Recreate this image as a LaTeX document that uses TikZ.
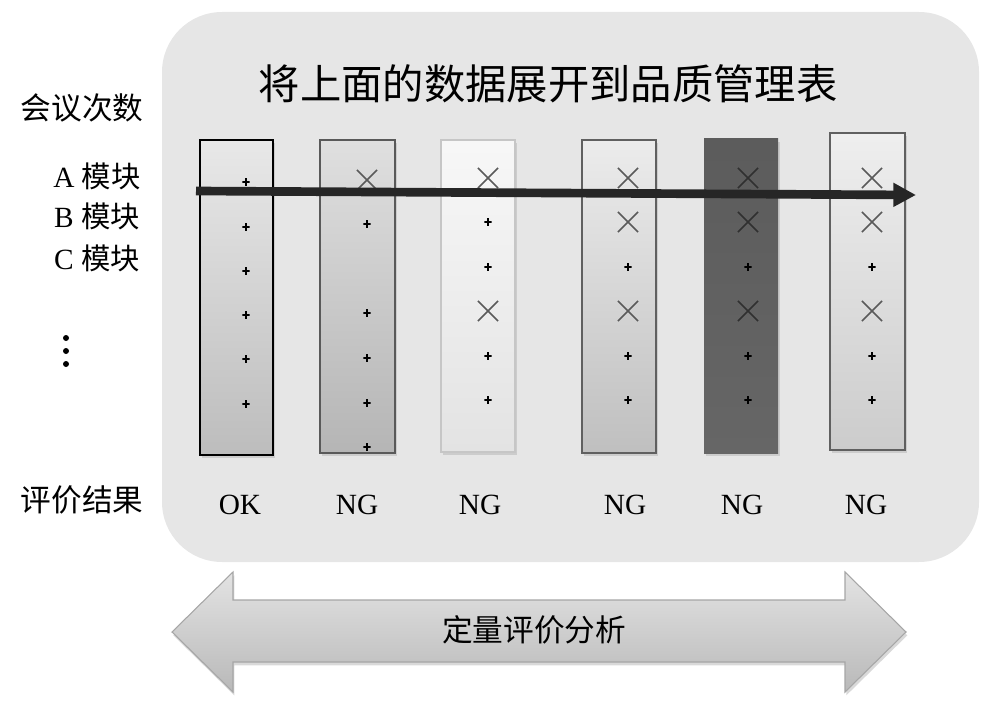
\documentclass[tikz,border=0pt]{standalone}
\usepackage{fontspec}
\setmainfont{Liberation Serif}
\newfontfamily\cjk{Noto Sans CJK SC}
\usetikzlibrary{shadows,arrows.meta,shapes.misc}
\definecolor{panel}{HTML}{E6E6E6}
\definecolor{xgray}{HTML}{5A5A5A}
\definecolor{xdark}{HTML}{303030}
\tikzset{
  colbox/.style={draw=#1, line width=1.1pt, anchor=north west, inner sep=0pt,
    drop shadow={shadow xshift=1.5pt, shadow yshift=-2pt, opacity=0.25}},
  xmark/.style={cross out, draw=xgray, line width=1.1pt, minimum size=14pt, inner sep=0pt},
  plusm/.style={minimum size=5.5pt, inner sep=0pt,
    path picture={\draw[line width=1.5pt,black] (path picture bounding box.north) -- (path picture bounding box.south)
      (path picture bounding box.west) -- (path picture bounding box.east);}},
  lbl/.style={font=\fontsize{22}{24}\selectfont, inner sep=0pt},
  cjklbl/.style={font=\cjk\fontsize{23}{25}\selectfont, inner sep=0pt},
  res/.style={font=\fontsize{22}{24}\selectfont, inner sep=0pt},
  vdot/.style={circle, fill=black, minimum size=4.5pt, inner sep=0pt}
}
\begin{document}
\begin{tikzpicture}[x=0.75pt,y=-0.75pt]
\useasboundingbox (0,0) rectangle (981,709);
% panel
\fill[panel, rounded corners=45pt] (162,12) rectangle (979,562);
% title
\node[font=\cjk\fontsize{31}{33}\selectfont, inner sep=0pt] (title) at (548,84) {将上面的数据展开到品质管理表};
% left labels
\node[cjklbl] (meet) at (82,108) {会议次数};
\node[lbl] (la) at (97,176) {A {\cjk 模块}};
\node[lbl] (lb) at (97,216) {B {\cjk 模块}};
\node[lbl] (lc) at (97,258) {C {\cjk 模块}};
\node[vdot] (d1) at (66,338) {};
\node[vdot] (d2) at (66,351) {};
\node[vdot] (d3) at (66,364) {};
\node[cjklbl] (eval) at (82,500) {评价结果};
% columns
\path[colbox=black, top color=gray!18, bottom color=gray!52, line width=1.6pt]
  (200,140) rectangle (273,455);
\node[inner sep=0pt] (c1) at (236.5,297.5) {};
\path[colbox=gray!70!black, top color=gray!25, bottom color=gray!58] (320,140) rectangle (395,453);
\node[inner sep=0pt] (c2) at (357.5,296.5) {};
\path[colbox=gray!45, top color=gray!6, bottom color=gray!22] (441,140) rectangle (515,452);
\node[inner sep=0pt] (c3) at (478,296) {};
\path[colbox=gray!75!black, top color=gray!15, bottom color=gray!50] (582,140) rectangle (656,453);
\node[inner sep=0pt] (c4) at (619,296.5) {};
\path[colbox=gray!70!black, top color=gray!72!black, bottom color=gray!80!black, draw=none] (704,139) rectangle (778,453);
\node[inner sep=0pt] (c5) at (741,296) {};
\path[colbox=gray!75!black, top color=gray!13, bottom color=gray!40] (830,133) rectangle (905,450);
\node[inner sep=0pt] (c6) at (867.5,291.5) {};
% markers column 1
\foreach \y [count=\i] in {182,227,271,315,359,404}
  \node[plusm] (m1-\i) at (246,\y) {};
% column 2
\node[xmark] (m2-1) at (367,180) {};
\foreach \y [count=\i from 2] in {224,313,358,403,447}
  \node[plusm] (m2-\i) at (367,\y) {};
% column 3
\node[xmark] (m3-1) at (488,178) {};
\node[plusm] (m3-2) at (488,222) {};
\node[plusm] (m3-3) at (488,267) {};
\node[xmark] (m3-4) at (488,311) {};
\node[plusm] (m3-5) at (488,356) {};
\node[plusm] (m3-6) at (488,400) {};
% columns 4-6
\foreach \c/\x/\xc in {4/628/xgray,5/748/xdark,6/872/xgray}{
  \node[xmark, draw=\xc] (m\c-1) at (\x,178) {};
  \node[xmark, draw=\xc] (m\c-2) at (\x,222) {};
  \node[plusm] (m\c-3) at (\x,267) {};
  \node[xmark, draw=\xc] (m\c-4) at (\x,311) {};
  \node[plusm] (m\c-5) at (\x,356) {};
  \node[plusm] (m\c-6) at (\x,400) {};
}
% results
\node[res] (r1) at (240,505) {OK};
\node[res] (r2) at (357,505) {NG};
\node[res] (r3) at (480,505) {NG};
\node[res] (r4) at (625,505) {NG};
\node[res] (r5) at (742,505) {NG};
\node[res] (r6) at (866,505) {NG};
% long arrow
\coordinate (as) at (196,191);
\coordinate (ae) at (916,195);
\draw[line width=6.5pt, color=black!85, -{Triangle[length=17pt,width=17pt]}] (as) -- (ae);
% double arrow
\path[draw=gray!70, line width=0.8pt, top color=gray!22, bottom color=gray!55,
  drop shadow={shadow xshift=1pt, shadow yshift=-2.5pt, opacity=0.3}]
  (172,632) -- (233,572) -- (233,600) -- (845,600) -- (845,572) -- (906,632)
  -- (845,692) -- (845,662) -- (233,662) -- (233,692) -- cycle;
\node[font=\cjk\fontsize{23}{25}\selectfont, inner sep=0pt] (qa) at (534,630) {定量评价分析};
\end{tikzpicture}
\end{document}
